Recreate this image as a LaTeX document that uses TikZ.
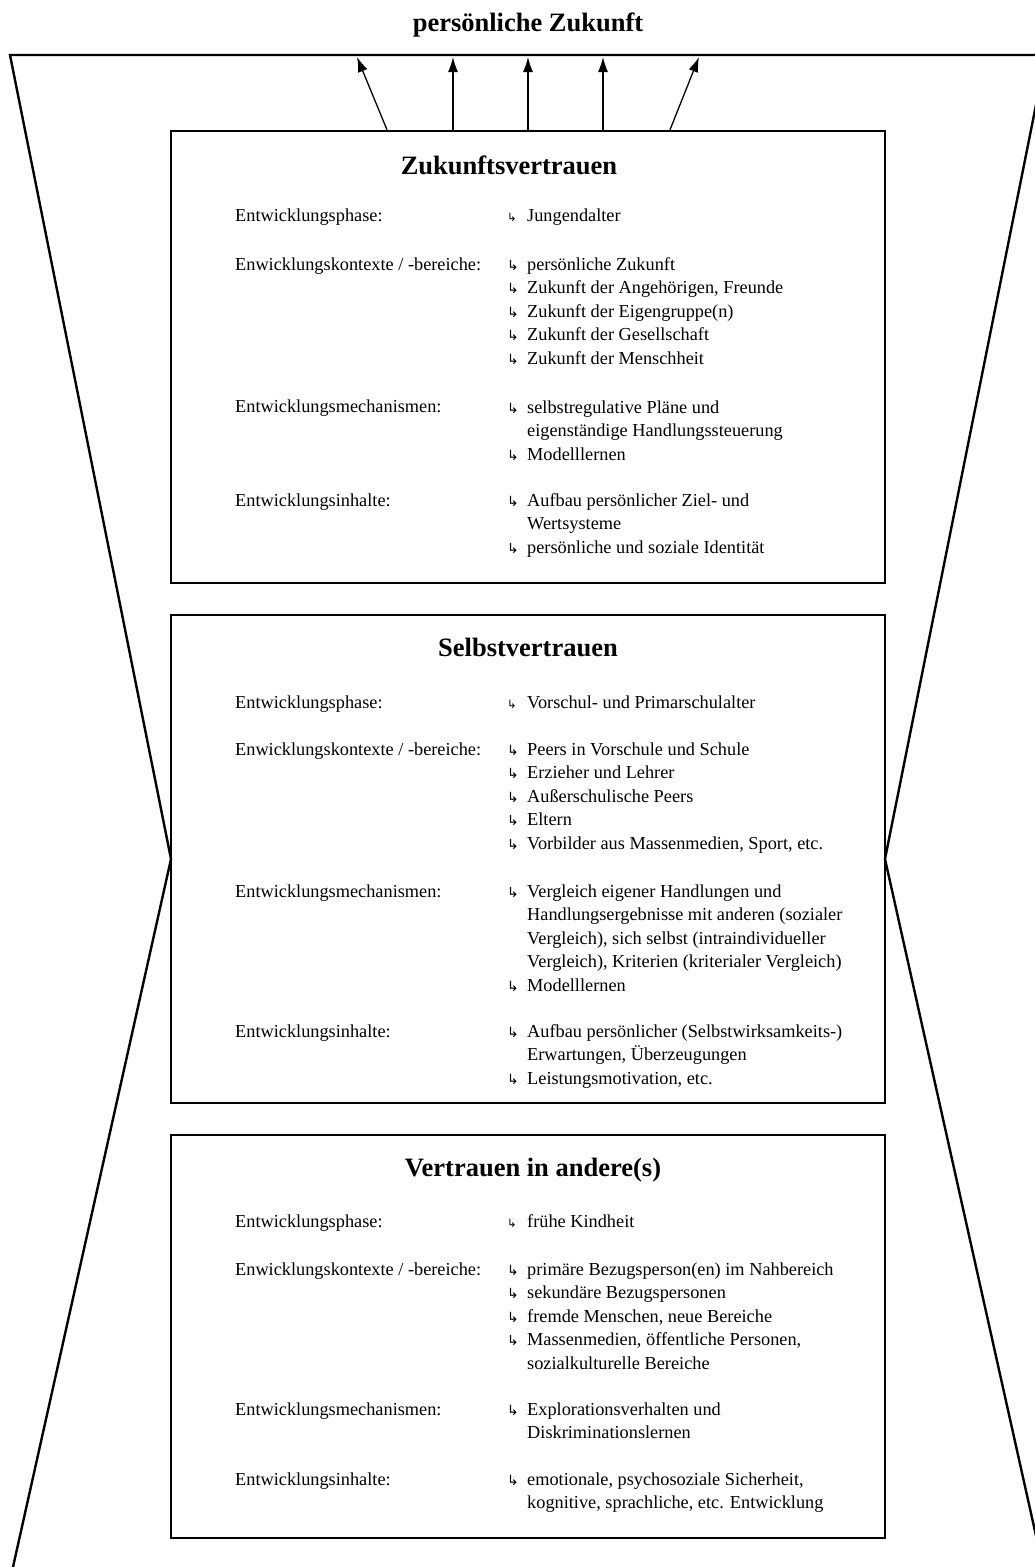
\documentclass[tikz,border=0pt]{standalone}
\usepackage{fontspec}
\setmainfont{Liberation Serif}
\newfontfamily\symfont{DejaVu Sans}
\usetikzlibrary{arrows.meta}

% hooked arrows used as list markers
\newcommand\hk{{\symfont\fontsize{14}{14}\selectfont ↳}}
\newcommand\hks{{\symfont\fontsize{11.5}{11.5}\selectfont ↳}}
\newcommand\bul{\makebox[20pt][l]{\hk}}
\newcommand\buls{\makebox[20pt][l]{\hks}}
\newcommand\ind{\hspace*{20pt}}
\newcommand\bodysize{\fontsize{18.3}{23.5}\selectfont}
\newcommand\lst[1]{\parbox[t]{360pt}{\bodysize\raggedright #1}}

\begin{document}
\begin{tikzpicture}[x=1pt,y=-1pt,
  outline/.style={line width=2.4pt, line join=miter},
  stage/.style={draw, line width=2.4pt, minimum width=714pt, inner sep=0pt},
  head/.style={anchor=base, inner sep=0pt, font=\fontsize{26.5}{30}\selectfont\bfseries},
  lbl/.style={anchor=base west, inner sep=0pt, font=\bodysize},
  val/.style={anchor=base west, inner sep=0pt},
  up/.style={line width=1.3pt, -{Latex[length=15pt,width=10pt]}}]
\useasboundingbox (0,0) rectangle (1035,1567);
\begin{scope}
\clip (0,0) rectangle (1035,1567);

% hourglass outline
\draw[outline] (13,1567) -- (171,859) -- (10,55) -- (1046,55) -- (885,859) -- (1043,1567);

% title
\node[head] (title) at (528,31) {persönliche Zukunft};

% three stage boxes
\node[stage, minimum height=452pt] (zk) at (528,357) {};
\node[stage, minimum height=488pt] (sv) at (528,859) {};
\node[stage, minimum height=403pt] (va) at (528,1336.5) {};

% arrows towards the future
\coordinate (t1) at (357,57);
\coordinate (t2) at (453,57);
\coordinate (t3) at (528,57);
\coordinate (t4) at (603,57);
\coordinate (t5) at (699,57);
\draw[up] ([xshift=-141pt]zk.north) -- (t1);
\draw[up] ([xshift=-75pt]zk.north) -- (t2);
\draw[up] (zk.north) -- (t3);
\draw[up] ([xshift=75pt]zk.north) -- (t4);
\draw[up] ([xshift=142pt]zk.north) -- (t5);

% --- Zukunftsvertrauen
\node[head] (zkh) at (509,174) {Zukunftsvertrauen};
\node[lbl] (zk1) at (235,221) {Entwicklungsphase:};
\node[val] (zk1v) at (507,221) {\lst{\buls Jungendalter}};
\node[lbl] (zk2) at (235,270) {Enwicklungskontexte / -bereiche:};
\node[val] (zk2v) at (507,270) {\lst{\bul persönliche Zukunft\\
  \bul Zukunft der Angehörigen, Freunde\\
  \bul Zukunft der Eigengruppe(n)\\
  \bul Zukunft der Gesellschaft\\
  \bul Zukunft der Menschheit}};
\node[lbl] (zk3) at (235,412) {Entwicklungsmechanismen:};
\node[val] (zk3v) at (507,413) {\lst{\bul selbstregulative Pläne und\\
  \ind eigenständige Handlungssteuerung\\
  \bul Modelllernen}};
\node[lbl] (zk4) at (235,506) {Entwicklungsinhalte:};
\node[val] (zk4v) at (507,506) {\lst{\bul Aufbau persönlicher Ziel- und\\
  \ind Wertsysteme\\
  \bul persönliche und soziale Identität}};

% --- Selbstvertrauen
\node[head] (svh) at (528,656) {Selbstvertrauen};
\node[lbl] (sv1) at (235,708) {Entwicklungsphase:};
\node[val] (sv1v) at (507,708) {\lst{\buls Vorschul- und Primarschulalter}};
\node[lbl] (sv2) at (235,755) {Enwicklungskontexte / -bereiche:};
\node[val] (sv2v) at (507,755) {\lst{\bul Peers in Vorschule und Schule\\
  \bul Erzieher und Lehrer\\
  \bul Außerschulische Peers\\
  \bul Eltern\\
  \bul Vorbilder aus Massenmedien, Sport, etc.}};
\node[lbl] (sv3) at (235,897) {Entwicklungsmechanismen:};
\node[val] (sv3v) at (507,897) {\lst{\bul Vergleich eigener Handlungen und\\
  \ind Handlungsergebnisse mit anderen (sozialer\\
  \ind Vergleich), sich selbst (intraindividueller\\
  \ind Vergleich), Kriterien (kriterialer Vergleich)\\
  \bul Modelllernen}};
\node[lbl] (sv4) at (235,1037) {Entwicklungsinhalte:};
\node[val] (sv4v) at (507,1037) {\lst{\bul Aufbau persönlicher (Selbstwirksamkeits-)\\
  \ind Erwartungen, Überzeugungen\\
  \bul Leistungsmotivation, etc.}};

% --- Vertrauen in andere(s)
\node[head] (vah) at (533,1176) {Vertrauen in andere(s)};
\node[lbl] (va1) at (235,1227) {Entwicklungsphase:};
\node[val] (va1v) at (507,1227) {\lst{\buls frühe Kindheit}};
\node[lbl] (va2) at (235,1275) {Enwicklungskontexte / -bereiche:};
\node[val] (va2v) at (507,1275) {\lst{\bul primäre Bezugsperson(en) im Nahbereich\\
  \bul sekundäre Bezugspersonen\\
  \bul fremde Menschen, neue Bereiche\\
  \bul Massenmedien, öffentliche Personen,\\
  \ind sozialkulturelle Bereiche}};
\node[lbl] (va3) at (235,1415) {Entwicklungsmechanismen:};
\node[val] (va3v) at (507,1415) {\lst{\bul Explorationsverhalten und\\
  \ind Diskriminationslernen}};
\node[lbl] (va4) at (235,1485) {Entwicklungsinhalte:};
\node[val] (va4v) at (507,1485) {\lst{\bul emotionale, psychosoziale Sicherheit,\\
  \ind kognitive, sprachliche, etc. Entwicklung}};
\end{scope}
\end{tikzpicture}
\end{document}
